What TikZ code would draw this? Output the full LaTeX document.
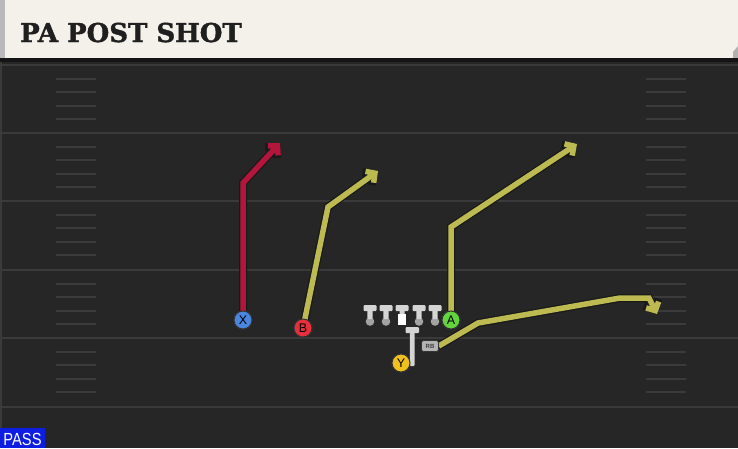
\documentclass[tikz,border=0pt]{standalone}
\usepackage{fontspec}
\usepackage{graphicx}
\setmainfont{Liberation Sans}
\newfontfamily\headfont[FakeBold=1.5]{DejaVu Serif}
\usetikzlibrary{arrows.meta}
\definecolor{fieldbg}{HTML}{262626}
\definecolor{headbg}{HTML}{F4F1EB}
\definecolor{yardc}{HTML}{3A3A3A}
\definecolor{hashc}{HTML}{3B3B3B}
\definecolor{redroute}{HTML}{B3163A}
\definecolor{yelroute}{HTML}{BDBA52}
\definecolor{xblue}{HTML}{4A86E0}
\definecolor{bred}{HTML}{E8303C}
\definecolor{agreen}{HTML}{62D43C}
\definecolor{yyellow}{HTML}{F0C01E}
\definecolor{passblue}{HTML}{0E1EE0}
\definecolor{olgray}{HTML}{D4D4D4}
\definecolor{olball}{HTML}{A2A2A2}
\begin{document}
\begin{tikzpicture}[x=1pt,y=-1pt,
  yardline/.style={draw=yardc,line width=2.5pt},
  hashline/.style={draw=hashc,line width=2pt},
  routeout/.style={draw=black!90,line width=8pt,line join=miter,-{Straight Barb[length=7.5pt,width=16pt,line width=8pt]}},
  routein/.style={draw=#1,line width=5.5pt,line join=miter,-{Straight Barb[length=6.6pt,width=14pt,line width=5.5pt]}},
  player/.style={circle,draw=black!80,line width=1pt,fill=#1,minimum size=18pt,inner sep=0pt,font=\fontsize{12.5}{12.5}\selectfont,text=black},
  olbar/.style={fill=olgray,rounded corners=1pt},
  rbbox/.style={fill=olgray!85!black,draw=black!80,line width=0.6pt,rounded corners=2.5pt,minimum width=17pt,minimum height=11pt,inner sep=0pt,font=\fontsize{6}{6}\selectfont\bfseries,text=black!75}
]
\useasboundingbox (0,0) rectangle (738,448);
\fill[fieldbg] (0,0) rectangle (738,448);
% header
\fill[headbg] (0,0) rectangle (738,58);
\fill[gray!60] (733,52) -- (738,46) -- (738,58) -- (733,58) -- cycle;
\fill[gray!55] (0,0) rectangle (5,58);
\fill[black!92] (0,58) rectangle (738,62);
\node[anchor=base west,inner sep=0pt,font=\headfont\bfseries\fontsize{26}{26}\selectfont,text=black!88] (title) at (20,42) {PA POST SHOT};
% left edge
\draw[draw=yardc,line width=1.5pt] (1,62) -- (1,448);
% yard lines
\foreach \y in {65,133,201,270,338,407} \draw[yardline] (2,\y) -- (738,\y);
% hash marks
\foreach \b in {65,133,201,270,338}
  \foreach \k in {1,2,3,4} {
    \draw[hashline] (56,\b+\k*13.6) -- (96,\b+\k*13.6);
    \draw[hashline] (646,\b+\k*13.6) -- (686,\b+\k*13.6);
  }
% players (positions)
\node[player=xblue] (X) at (243,320) {X};
\node[player=bred] (B) at (303,328) {B};
\node[player=agreen] (A) at (451,320) {A};
\node[player=yyellow] (Y) at (401,363) {Y};
\node[rbbox] (RB) at (430,346) {RB};
% route corners
\coordinate (x1) at (243,183); \coordinate (x2) at (280,143);
\coordinate (b1) at (328,207); \coordinate (b2) at (378,171);
\coordinate (a1) at (451,227); \coordinate (a2) at (577,144);
\coordinate (r1) at (478,323); \coordinate (r2) at (620,298); \coordinate (r3) at (649,298); \coordinate (r4) at (657,314);
% routes
\draw[routeout] (X.center) -- (x1) -- (x2);
\draw[routein=redroute] (X.center) -- (x1) -- (x2);
\draw[routeout] (B.center) -- (b1) -- (b2);
\draw[routein=yelroute] (B.center) -- (b1) -- (b2);
\draw[routeout] (A.center) -- (a1) -- (a2);
\draw[routein=yelroute] (A.center) -- (a1) -- (a2);
\draw[routeout] (RB.east) -- (r1) -- (r2) -- (r3) -- (r4);
\draw[routein=yelroute] (RB.east) -- (r1) -- (r2) -- (r3) -- (r4);
% players on top
\node[player=xblue] at (X) {X};
\node[player=bred] at (B) {B};
\node[player=agreen] at (A) {A};
\node[rbbox] at (RB) {RB};
% offensive line
\foreach \x in {370,386,419,435} {
  \fill[olball] (\x,321.5) circle (4.3);
  \fill[olbar] (\x-2.6,308) rectangle (\x+2.6,319);
  \fill[olbar] (\x-6.5,305) rectangle (\x+6.5,311);
}
\fill[olbar] (399.5,308) rectangle (404.5,315);
\fill[olbar] (395.5,305) rectangle (408.5,311);
\fill[white] (398,314) rectangle (406,325);
% QB
\fill[olbar] (409.8,331) rectangle (414.6,366);
\fill[olbar] (405.5,327) rectangle (419,333);
\node[player=yyellow] at (Y) {Y};
% PASS tag
\fill[passblue] (0,428) rectangle (45,448);
\node[text=white,font=\fontsize{17.5}{17.5}\selectfont,inner sep=0pt] (pass) at (22.5,439) {\scalebox{0.84}[1]{PASS}};
\end{tikzpicture}
\end{document}
